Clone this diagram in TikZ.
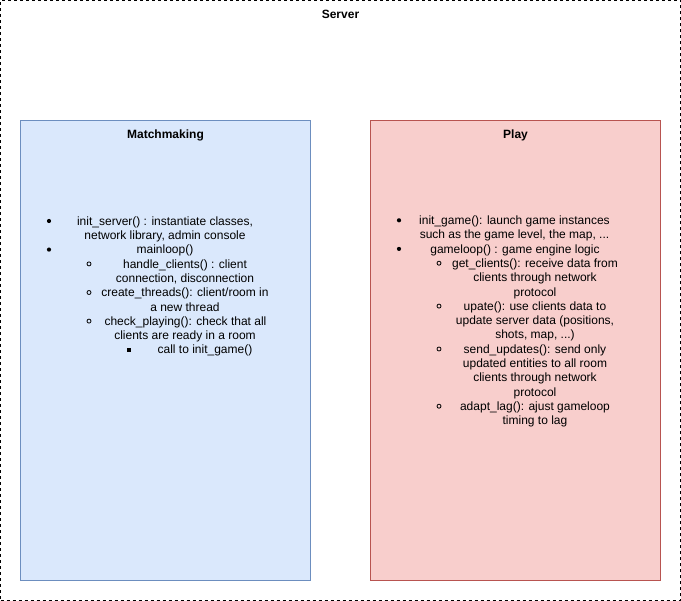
\documentclass[tikz,border=0pt]{standalone}
\usepackage{fontspec}
\setmainfont{Liberation Sans}
\definecolor{mmfill}{HTML}{DAE8FC}
\definecolor{mmline}{HTML}{6C8EBF}
\definecolor{plfill}{HTML}{F8CECC}
\definecolor{plline}{HTML}{B85450}
\begin{document}
\begin{tikzpicture}[x=1pt,y=-1pt,
  txt/.style={inner sep=0pt,font=\fontsize{12}{14}\selectfont,text height=8.6pt,text depth=0pt},
  ttl/.style={txt,font=\fontsize{12}{14}\selectfont\bfseries},
  dotA/.style={circle,fill=black,inner sep=0pt,minimum size=4.2pt},
  dotB/.style={circle,draw=black,line width=0.8pt,inner sep=0pt,minimum size=4pt},
  dotC/.style={rectangle,fill=black,inner sep=0pt,minimum size=4pt}]
\useasboundingbox (0,0) rectangle (681,601);
\node[draw=black,dashed,dash pattern=on 3pt off 3pt,line width=1pt,minimum width=680pt,minimum height=600pt,inner sep=0pt] (server) at (340.5,300.5) {};
\node[ttl] (servert) at (340.5,14) {Server};
\node[draw=mmline,fill=mmfill,line width=1pt,minimum width=290pt,minimum height=460pt,inner sep=0pt] (mm) at (165.5,350.5) {};
\node[ttl] (mmt) at (165.5,134) {Matchmaking};
\node[draw=plline,fill=plfill,line width=1pt,minimum width=290pt,minimum height=460pt,inner sep=0pt] (pl) at (515.5,350.5) {};
\node[ttl] (plt) at (515.5,134) {Play};
% left list
\node[dotA] (lb1) at (49,221) {};
\node[txt] (l1) at (165,221) {init\_server() : instantiate classes,};
\node[txt] (l2) at (165,235.3) {network library, admin console};
\node[dotA] (lb2) at (49,249.6) {};
\node[txt] (l3) at (165,249.6) {mainloop()};
\node[dotB] (lb3) at (89,263.9) {};
\node[txt] (l4) at (185,263.9) {handle\_clients() : client};
\node[txt] (l5) at (185,278.2) {connection, disconnection};
\node[dotB] (lb4) at (89,292.5) {};
\node[txt] (l6) at (185,292.5) {create\_threads(): client/room in};
\node[txt] (l7) at (185,306.8) {a new thread};
\node[dotB] (lb5) at (89,321.1) {};
\node[txt] (l8) at (185.5,321.1) {check\_playing(): check that all};
\node[txt] (l9) at (185,335.4) {clients are ready in a room};
\node[dotC] (lb6) at (128.5,350) {};
\node[txt] (l10) at (205,349.7) {call to init\_game()};
% right list
\node[dotA] (rb1) at (399,220.3) {};
\node[txt] (r1) at (514.5,220.3) {init\_game(): launch game instances};
\node[txt] (r2) at (514.5,234.6) {such as the game level, the map, ...};
\node[dotA] (rb2) at (399,248.9) {};
\node[txt] (r3) at (515,248.9) {gameloop() : game engine logic};
\node[dotB] (rb3) at (439,263.2) {};
\node[txt] (r4) at (535,263.2) {get\_clients(): receive data from};
\node[txt] (r5) at (535,277.5) {clients through network};
\node[txt] (r6) at (535,291.8) {protocol};
\node[dotB] (rb4) at (439,306.1) {};
\node[txt] (r7) at (535,306.1) {upate(): use clients data to};
\node[txt] (r8) at (535,320.4) {update server data (positions,};
\node[txt] (r9) at (535,334.7) {shots, map, ...)};
\node[dotB] (rb5) at (439,349) {};
\node[txt] (r10) at (535,349) {send\_updates(): send only};
\node[txt] (r11) at (535,363.3) {updated entities to all room};
\node[txt] (r12) at (535,377.6) {clients through network};
\node[txt] (r13) at (535,391.9) {protocol};
\node[dotB] (rb6) at (439,406.2) {};
\node[txt] (r14) at (535,406.2) {adapt\_lag(): ajust gameloop};
\node[txt] (r15) at (535,420.5) {timing to lag};
\end{tikzpicture}
\end{document}
